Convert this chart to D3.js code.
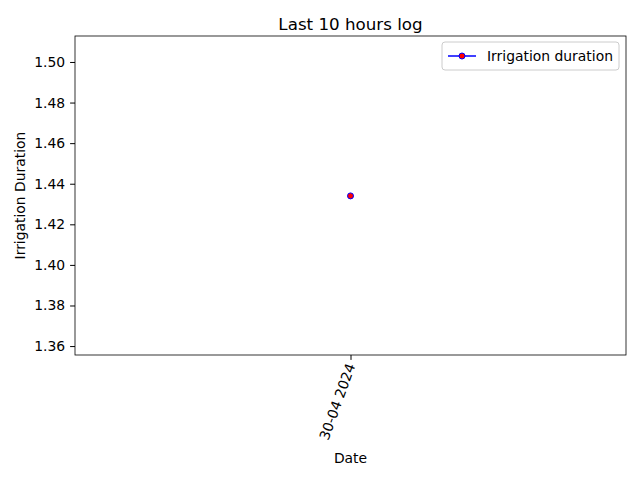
<!DOCTYPE html>
<html>
<head>
<meta charset="utf-8">
<script src="https://cdn.jsdelivr.net/npm/d3@7"></script>
<style>
  body { margin: 0; background: #fff; }
  text { font-family: "DejaVu Sans", sans-serif; }
</style>
</head>
<body>
<div id="chart"></div>
<script>
// data
const dates = ["30-04 2024"];
const durations = [1.434];
const yTicks = [1.36, 1.38, 1.40, 1.42, 1.44, 1.46, 1.48, 1.50];

const width = 640, height = 480,
      margin = {top: 36, right: 14, bottom: 125, left: 75};

const svg = d3.select("#chart").append("svg")
    .attr("width", width).attr("height", height);

const x = d3.scalePoint()
    .domain(dates)
    .range([margin.left, width - margin.right])
    .padding(0.5);

const y = d3.scaleLinear()
    .domain([1.3556, 1.5128])
    .range([height - margin.bottom, margin.top]);

// axes
const xAxis = svg.append("g")
    .attr("transform", "translate(0," + (height - margin.bottom) + ")")
    .call(d3.axisBottom(x).tickSize(4.9).tickPadding(0));
xAxis.selectAll("text")
    .attr("font-size", 13.9).attr("fill", "#000")
    .attr("text-anchor", "end")
    .attr("x", 0).attr("y", 0).attr("dy", "0.35em")
    .attr("transform", "translate(0,9) rotate(-70)");

const yAxis = svg.append("g")
    .attr("transform", "translate(" + margin.left + ",0)")
    .call(d3.axisLeft(y).tickValues(yTicks).tickFormat(d3.format(".2f")).tickSize(4.9).tickPadding(4.9));
yAxis.selectAll("text").attr("font-size", 13.9).attr("fill", "#000");

[xAxis, yAxis].forEach(a => a.select(".domain").remove());

// frame
svg.append("rect")
    .attr("x", margin.left).attr("y", margin.top)
    .attr("width", width - margin.left - margin.right)
    .attr("height", height - margin.bottom - margin.top)
    .attr("fill", "none").attr("stroke", "#000").attr("stroke-width", 0.8);

// line + points
const line = d3.line().x((d, i) => x(dates[i])).y(d => y(d));
svg.append("path").datum(durations)
    .attr("d", line).attr("fill", "none").attr("stroke", "blue").attr("stroke-width", 1.5);
svg.selectAll(".pt").data(durations).enter().append("circle")
    .attr("cx", (d, i) => x(dates[i])).attr("cy", d => y(d))
    .attr("r", 3).attr("fill", "red").attr("stroke", "blue").attr("stroke-width", 1);

// labels
svg.append("text").attr("x", (margin.left + width - margin.right) / 2).attr("y", 30)
    .attr("text-anchor", "middle").attr("font-size", 16.7).text("Last 10 hours log");
svg.append("text").attr("x", (margin.left + width - margin.right) / 2).attr("y", 463)
    .attr("text-anchor", "middle").attr("font-size", 13.9).text("Date");
svg.append("text").attr("transform", "translate(25," + ((margin.top + height - margin.bottom) / 2) + ") rotate(-90)")
    .attr("text-anchor", "middle").attr("font-size", 13.9).text("Irrigation Duration");

// legend
const lg = svg.append("g").attr("transform", "translate(442,42)");
lg.append("rect").attr("width", 177).attr("height", 28).attr("rx", 3)
    .attr("fill", "#fff").attr("stroke", "#ccc");
lg.append("line").attr("x1", 6).attr("x2", 34).attr("y1", 14).attr("y2", 14)
    .attr("stroke", "blue").attr("stroke-width", 1.5);
lg.append("circle").attr("cx", 20).attr("cy", 14).attr("r", 3)
    .attr("fill", "red").attr("stroke", "blue");
lg.append("text").attr("x", 45).attr("y", 19).attr("font-size", 13.9).text("Irrigation duration");
</script>
</body>
</html>
